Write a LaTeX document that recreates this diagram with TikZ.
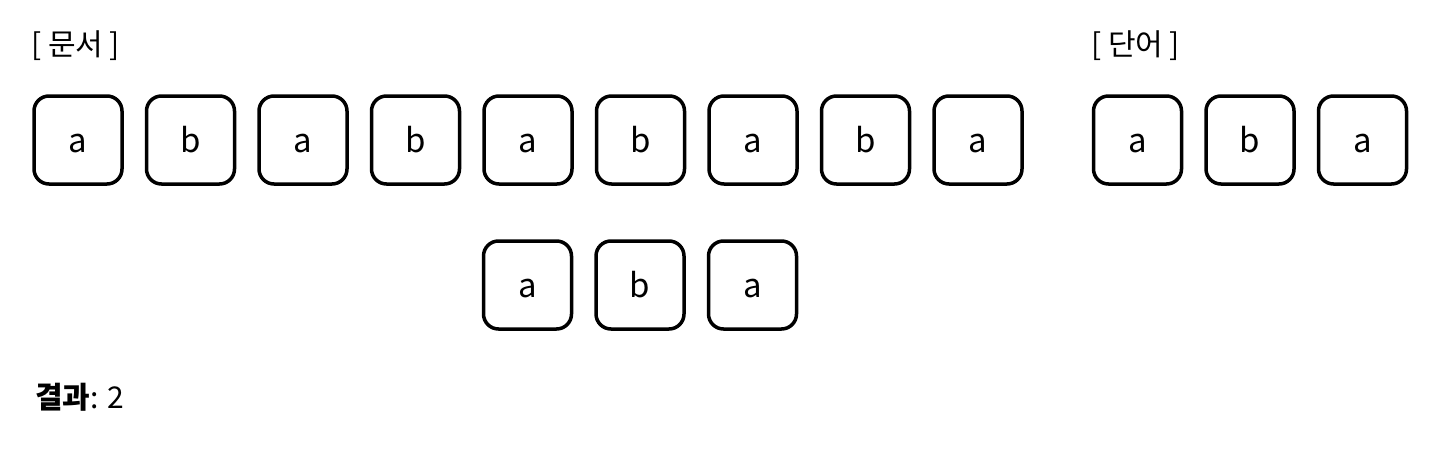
\documentclass[tikz,border=0pt]{standalone}
\usepackage{fontspec}
\setmainfont{Noto Sans CJK KR}
\begin{document}
\begin{tikzpicture}[x=1pt,y=-1pt,
  cell/.style={draw=black,line width=3.5pt,rounded corners=15pt,minimum width=88pt,minimum height=88pt,inner sep=0pt,text height=24pt,text depth=0pt,font=\fontsize{33}{38}\selectfont},
  lbl/.style={anchor=west,inner sep=0pt,font=\fontsize{30}{34}\selectfont}]
\useasboundingbox (0,0) rectangle (1450,450);
\foreach \c [count=\i] in {a,b,a,b,a,b,a,b,a} {
  \node[cell] (d\i) at ({78+(\i-1)*112.5},140) {\c};
}
\foreach \c [count=\i] in {a,b,a} {
  \node[cell] (w\i) at ({1137.5+(\i-1)*112.5},140) {\c};
  \node[cell] (m\i) at ({527.5+(\i-1)*112.5},285) {\c};
}
\node[lbl] (doc) at (31,46) {[ 문서 ]};
\node[lbl] (word) at (1091,46) {[ 단어 ]};
\node[lbl] (res) at (35,397) {\textbf{결과}: 2};
\end{tikzpicture}
\end{document}
